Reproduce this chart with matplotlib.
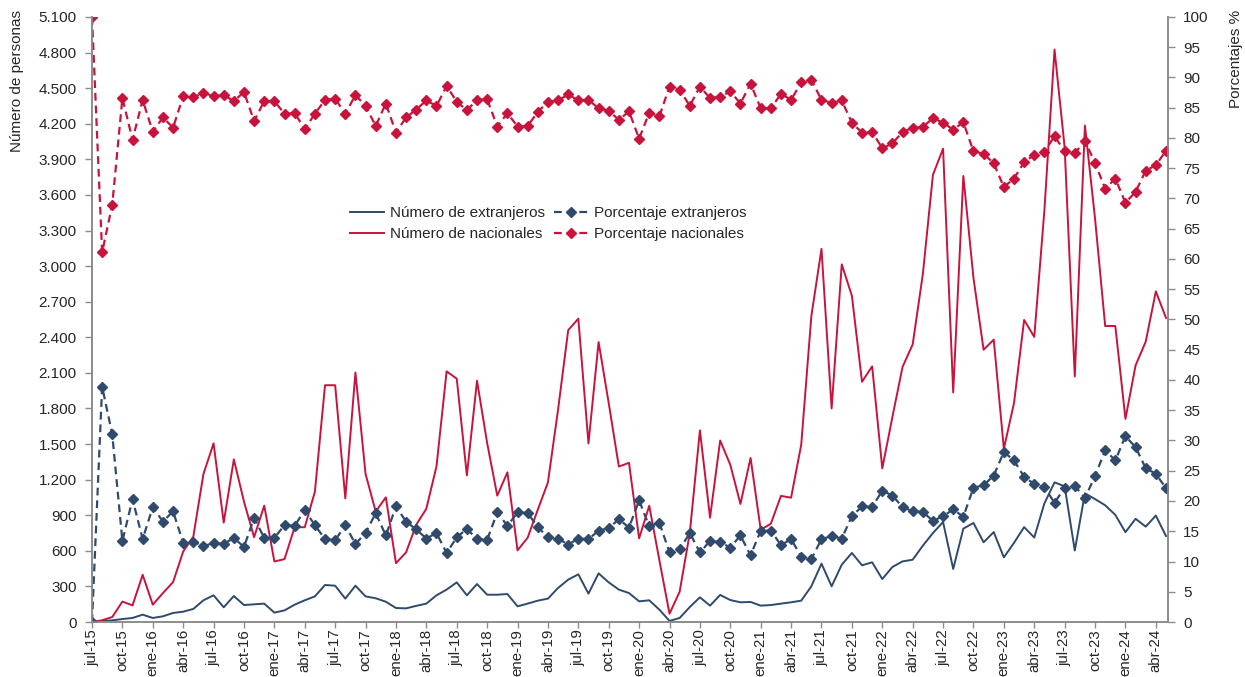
# -*- coding: utf-8 -*-
import numpy as np
import matplotlib
matplotlib.use('Agg')
import matplotlib.pyplot as plt
from matplotlib.ticker import FuncFormatter, MultipleLocator

plt.rcParams['font.family'] = ['Liberation Sans', 'DejaVu Sans']
plt.rcParams['font.size'] = 11

#monthly series, jul-15 .. may-24
nac_num = [0, 15, 42, 172, 140, 398, 146, 244, 336, 594,
           720, 1248, 1506, 838, 1371, 1015, 715, 981, 510, 530,
           799, 799, 1099, 1996, 1996, 1043, 2103, 1248, 931, 1051,
           496, 587, 820, 955, 1312, 2113, 2051, 1236, 2034, 1509,
           1065, 1262, 604, 711, 947, 1177, 1790, 2460, 2557, 1505,
           2360, 1845, 1310, 1342, 705, 980, 520, 70, 255, 750,
           1615, 880, 1530, 1325, 995, 1383, 778, 828, 1063, 1048,
           1495, 2580, 3145, 1800, 3015, 2750, 2025, 2155, 1295, 1729,
           2150, 2340, 2930, 3770, 3990, 1935, 3760, 2900, 2295, 2380,
           1460, 1845, 2546, 2403, 3470, 4825, 4000, 2070, 4185, 3400,
           2495, 2495, 1712, 2163, 2363, 2787, 2564]

ext_num = [0, 8, 14, 25, 34, 62, 34, 48, 76, 87,
           110, 183, 225, 124, 219, 143, 149, 155, 79, 98,
           146, 183, 216, 312, 306, 197, 306, 216, 200, 171,
           118, 115, 136, 155, 225, 273, 334, 225, 320, 230,
           230, 236, 132, 155, 180, 197, 287, 357, 402, 239,
           410, 334, 273, 244, 174, 183, 104, 9, 34, 126,
           208, 138, 228, 185, 166, 169, 138, 143, 155, 166,
           180, 301, 492, 301, 483, 582, 478, 503, 362, 464,
           511, 525, 643, 750, 843, 447, 787, 835, 672, 758,
           545, 667, 800, 712, 1000, 1177, 1144, 603, 1085, 1036,
           984, 903, 757, 870, 804, 897, 725]

ext_pct = [0, 38.9, 31.0, 13.4, 20.3, 13.7, 19.0, 16.6, 18.3, 13.1,
           13.3, 12.5, 13.1, 12.9, 13.9, 12.4, 17.2, 13.9, 13.9, 16.0,
           15.9, 18.5, 16.0, 13.7, 13.5, 16.0, 12.9, 14.7, 18.0, 14.3,
           19.1, 16.6, 15.3, 13.8, 14.7, 11.4, 14.0, 15.4, 13.7, 13.6,
           18.1, 15.9, 18.1, 18.0, 15.7, 14.0, 13.8, 12.8, 13.8, 13.7,
           15.1, 15.5, 17.0, 15.6, 20.1, 15.8, 16.4, 11.5, 12.0, 14.7,
           11.5, 13.4, 13.2, 12.3, 14.3, 11.0, 15.1, 15.1, 12.7, 13.7,
           10.8, 10.4, 13.7, 14.2, 13.8, 17.5, 19.1, 19.0, 21.7, 20.9,
           19.0, 18.3, 18.2, 16.7, 17.5, 18.6, 17.4, 22.2, 22.6, 24.2,
           28.1, 26.7, 24.0, 22.8, 22.3, 19.7, 22.2, 22.5, 20.5, 24.1,
           28.4, 26.7, 30.7, 28.9, 25.4, 24.5, 22.1]

nac_pct = [100, 61.1, 69.0, 86.6, 79.7, 86.3, 81.0, 83.4, 81.7, 86.9,
           86.7, 87.5, 86.9, 87.1, 86.1, 87.6, 82.8, 86.1, 86.1, 84.0,
           84.1, 81.5, 84.0, 86.3, 86.5, 84.0, 87.1, 85.3, 82.0, 85.7,
           80.9, 83.4, 84.7, 86.2, 85.3, 88.6, 86.0, 84.6, 86.3, 86.4,
           81.9, 84.1, 81.9, 82.0, 84.3, 86.0, 86.2, 87.2, 86.2, 86.3,
           84.9, 84.5, 83.0, 84.4, 79.9, 84.2, 83.6, 88.5, 88.0, 85.3,
           88.5, 86.6, 86.8, 87.7, 85.7, 89.0, 84.9, 84.9, 87.3, 86.3,
           89.2, 89.6, 86.3, 85.8, 86.2, 82.5, 80.9, 81.0, 78.3, 79.1,
           81.0, 81.7, 81.8, 83.3, 82.5, 81.4, 82.6, 77.8, 77.4, 75.8,
           71.9, 73.3, 76.0, 77.2, 77.7, 80.3, 77.8, 77.5, 79.5, 75.9,
           71.6, 73.3, 69.3, 71.1, 74.6, 75.5, 77.9]

#every third month gets a label
tick_labels = ['jul-15', 'oct-15', 'ene-16', 'abr-16', 'jul-16', 'oct-16',
               'ene-17', 'abr-17', 'jul-17', 'oct-17', 'ene-18', 'abr-18',
               'jul-18', 'oct-18', 'ene-19', 'abr-19', 'jul-19', 'oct-19',
               'ene-20', 'abr-20', 'jul-20', 'oct-20', 'ene-21', 'abr-21',
               'jul-21', 'oct-21', 'ene-22', 'abr-22', 'jul-22', 'oct-22',
               'ene-23', 'abr-23', 'jul-23', 'oct-23', 'ene-24', 'abr-24']

red = '#C8143C'
blue = '#2F4A6C'
gray = '#8C8C8C'
txt = '#262626'

n = len(nac_num)
x = np.arange(n)

fig = plt.figure(figsize=(12.45, 6.77), dpi=100)
ax1 = fig.add_axes([92/1245, 1 - 622/677, (1168 - 92)/1245, (622 - 17)/677])
ax2 = ax1.twinx()

l1, = ax1.plot(x, ext_num, color=blue, lw=1.4, label='Número de extranjeros')
l3, = ax1.plot(x, nac_num, color=red, lw=1.4, label='Número de nacionales')

l2, = ax2.plot(x, ext_pct, color=blue, lw=1.6, ls=(0, (3.5, 2.2)), marker='D',
               ms=4.8, label='Porcentaje extranjeros')
l4, = ax2.plot(x, nac_pct, color=red, lw=1.6, ls=(0, (3.5, 2.2)), marker='D',
               ms=4.8, label='Porcentaje nacionales')

ax1.set_xlim(0, n - 0.8)
ax1.set_ylim(0, 5100)
ax2.set_ylim(0, 100)
ax1.yaxis.set_major_locator(MultipleLocator(300))
ax2.yaxis.set_major_locator(MultipleLocator(5))
ax1.yaxis.set_major_formatter(FuncFormatter(lambda v, p: '{:,}'.format(int(v)).replace(',', '.')))

ax1.set_xticks(x[::3])
ax1.set_xticklabels(tick_labels, rotation=90)

for ax in (ax1, ax2):
    ax.spines['top'].set_visible(False)
    for s in ('left', 'right', 'bottom'):
        ax.spines[s].set_color(gray)
        ax.spines[s].set_linewidth(1.2)
    ax.tick_params(direction='out', length=5, width=1, color=gray,
                   labelcolor=txt, labelsize=11)
ax1.tick_params(axis='y', pad=6)
ax2.tick_params(axis='y', pad=6)
#keep the long month labels inside the figure
ax1.tick_params(axis='x', length=4, pad=1, labelsize=10.8)

fig.text(17/1245, 1 - 10/677, 'Número de personas', rotation=90, va='top',
         ha='center', fontsize=11, color=txt)
fig.text(1236/1245, 1 - 10/677, 'Porcentajes %', rotation=90, va='top',
         ha='center', fontsize=11, color=txt)

ax2.legend([l1, l3, l2, l4], [h.get_label() for h in (l1, l3, l2, l4)],
           ncol=2, loc='center', bbox_to_anchor=(0.424, 0.658), frameon=False,
           fontsize=11, handlelength=2.2, handletextpad=0.4, columnspacing=0.6,
           labelspacing=0.45, labelcolor=txt)

fig.savefig('out.png', dpi=100)
